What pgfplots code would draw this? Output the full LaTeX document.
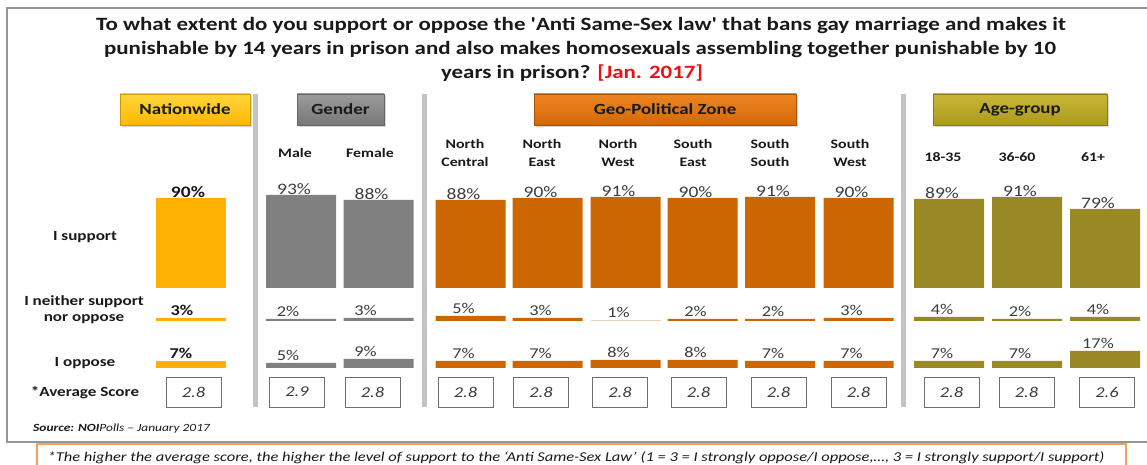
\documentclass[border=0pt]{standalone}
\usepackage{fontspec}
\setmainfont{Carlito}[FakeStretch=1.22]
\newfontfamily\plainq{Carlito}[FakeStretch=1.22]
\newcommand{\sq}{{\plainq\bfseries\char"0027}}
\usepackage{pgfplots}
\pgfplotsset{compat=1.18}
\usetikzlibrary{shadows}
\definecolor{natc}{RGB}{255,176,0}
\definecolor{genc}{RGB}{128,128,128}
\definecolor{geoc}{RGB}{204,102,0}
\definecolor{agec}{RGB}{153,137,36}
\definecolor{sepc}{RGB}{196,196,196}
\definecolor{framec}{RGB}{150,150,150}
\definecolor{footc}{RGB}{243,160,100}
\definecolor{labc}{RGB}{60,60,60}
\definecolor{txtc}{RGB}{25,25,25}
\definecolor{scorec}{RGB}{110,110,110}
\newcommand{\fs}[2]{\fontsize{#1bp}{#2bp}\selectfont}
\pgfplotsset{
  rowaxis/.style={scale only axis, width=1147bp, height=100bp,
    xmin=0, xmax=1147, ymin=0, ymax=100, hide axis, clip=false,
    anchor=south west, ybar, bar width=70,
    /pgf/number format/assume math mode=true,
    nodes near coords={\pgfmathprintnumber{\pgfplotspointmeta}\%},
    every node near coord/.append style={anchor=center, text=labc, font=\fs{15}{18}}},
  bb/.style={ybar, bar shift=0pt, draw=none, fill=#1},
  lx/.style={every node near coord/.append style={xshift=#1bp}},
  ly/.style={every node near coord/.append style={yshift=#1bp}},
}
\begin{document}
\begin{tikzpicture}
\useasboundingbox (0,0) rectangle (1147bp,465bp);
% frame (decoration, canvas coordinates; y measured from bottom)
\draw[framec, line width=1.5bp] (1150bp,457bp) -- (7bp,457bp) -- (7bp,23bp) -- (1150bp,23bp);
% ---------- main layer ----------
\begin{axis}[name=main, at={(0,0)}, anchor=south west, scale only axis,
  width=1147bp, height=465bp, xmin=0, xmax=1147, ymin=0, ymax=465,
  y dir=reverse, hide axis, clip=false]
\draw[footc, line width=2bp, fill=white] (axis cs:37,465) -- (axis cs:37,444) -- (axis cs:1126,444) -- (axis cs:1126,465);
% title
\node[anchor=base, text=txtc, font=\fs{18.8}{22}\bfseries] at (axis cs:581,31) {To what extent do you support or oppose the \sq Anti Same-Sex law\sq{} that bans gay marriage and makes it};
\node[anchor=base, text=txtc, font=\fs{18.8}{22}\bfseries] at (axis cs:580,55) {punishable by 14 years in prison and also makes homosexuals assembling together punishable by 10};
\node[anchor=base, text=txtc, font=\fs{18.8}{22}\bfseries] at (axis cs:572,79) {years in prison? \textcolor[RGB]{230,20,20}{[Jan. 2017]}};
% separators
\draw[sepc, line width=5bp] (axis cs:255,94) -- (axis cs:255,407);
\draw[sepc, line width=5bp] (axis cs:424,94) -- (axis cs:424,407);
\draw[sepc, line width=5bp] (axis cs:903,94) -- (axis cs:903,407);
% header boxes
\node[draw={rgb,255:red,205;green,150;blue,0}, top color={rgb,255:red,255;green,214;blue,60}, bottom color={rgb,255:red,255;green,184;blue,0}, minimum width=130bp, minimum height=31bp, inner sep=0pt, drop shadow={opacity=0.3, shadow xshift=2bp, shadow yshift=-2bp}, font=\fs{15.5}{18}\bfseries, text=txtc] at (axis cs:185,109.5) {Nationwide};
\node[draw={rgb,255:red,100;green,100;blue,100}, top color={rgb,255:red,155;green,155;blue,155}, bottom color={rgb,255:red,120;green,120;blue,120}, minimum width=87bp, minimum height=31bp, inner sep=0pt, drop shadow={opacity=0.3, shadow xshift=2bp, shadow yshift=-2bp}, font=\fs{15.5}{18}\bfseries, text=txtc] at (axis cs:340.5,109.5) {Gender};
\node[draw={rgb,255:red,170;green,80;blue,0}, top color={rgb,255:red,236;green,132;blue,32}, bottom color={rgb,255:red,212;green,104;blue,8}, minimum width=262bp, minimum height=31bp, inner sep=0pt, drop shadow={opacity=0.3, shadow xshift=2bp, shadow yshift=-2bp}, font=\fs{15.5}{18}\bfseries, text=txtc] at (axis cs:665,109.5) {Geo-Political Zone};
\node[draw={rgb,255:red,140;green,125;blue,20}, top color={rgb,255:red,200;green,182;blue,52}, bottom color={rgb,255:red,172;green,154;blue,30}, minimum width=174bp, minimum height=31bp, inner sep=0pt, drop shadow={opacity=0.3, shadow xshift=2bp, shadow yshift=-2bp}, font=\fs{15.5}{18}\bfseries, text=txtc] at (axis cs:1020,109.5) {Age-group};
% column labels
\tikzset{cl/.style={align=center, font=\fs{13}{18}\bfseries, text=txtc}}
\node[cl] at (axis cs:295,153) {Male};
\node[cl] at (axis cs:370,153) {Female};
\node[cl] at (axis cs:465,153) {North\\Central};
\node[cl] at (axis cs:542,153) {North\\East};
\node[cl] at (axis cs:618,153) {North\\West};
\node[cl] at (axis cs:693,153) {South\\East};
\node[cl] at (axis cs:770,153) {South\\South};
\node[cl] at (axis cs:850,153) {South\\West};
\node[cl] at (axis cs:943,157) {18-35};
\node[cl] at (axis cs:1017,157) {36-60};
\node[cl] at (axis cs:1093,157) {61+};
% row labels
\tikzset{rl/.style={align=center, font=\fs{14}{16}\bfseries, text=txtc}}
\node[rl] at (axis cs:85,237) {I support};
\node[rl] at (axis cs:84,310) {I neither support\\nor oppose};
\node[rl] at (axis cs:85,363) {I oppose};
\node[rl] at (axis cs:85,393) {*Average Score};
% source and footnote
\node[anchor=west, font=\fs{11}{13}\itshape, text=txtc, inner sep=0pt] at (axis cs:33,429) {\textbf{Source:} \textbf{NOI}Polls -- January 2017};
\node[font=\fs{13.5}{15}\itshape, text=txtc] at (axis cs:576,458) {*The higher the average score, the higher the level of support to the ‘Anti Same-Sex Law’ (1 = 3 = I strongly oppose/I oppose,…, 3 = I strongly support/I support)};
% average score boxes
\addplot[draw=none, mark=none, point meta=explicit symbolic, nodes near coords,
  every node near coord/.append style={anchor=center, draw=scorec, line width=0.8bp, fill=white,
  minimum width=55bp, minimum height=30bp, inner sep=0pt, font=\fs{15}{18}\itshape, text=labc}]
  coordinates {(193.5,392)[2.8] (297,392)[2.9] (372.5,392)[2.8] (465.5,392)[2.8] (541,392)[2.8]
  (620,392)[2.8] (698.5,392)[2.8] (778.5,392)[2.8] (858.5,392)[2.8] (951.5,392)[2.8]
  (1026.5,392)[2.8] (1107,392)[2.6]};
\end{axis}
% ---------- I support ----------
\begin{axis}[rowaxis, at={(0,177bp)}, ly=6]
\addplot[bb=natc, lx=-3, every node near coord/.append style={font=\fs{16}{18}\bfseries, text=txtc}] coordinates {(191,90)};
\addplot[bb=genc, lx=-7, every node near coord/.append style={font=\fs{16}{18}}] coordinates {(301,93) (378.5,88)};
\addplot[bb=geoc, lx=-7, every node near coord/.append style={font=\fs{16}{18}}] coordinates {(470.5,88) (547.5,90) (625.5,91) (702.5,90) (780,91) (858.5,90)};
\addplot[bb=agec, lx=-7, every node near coord/.append style={font=\fs{16}{18}}] coordinates {(949,89) (1027,91) (1105,79)};
\end{axis}
% ---------- neither ----------
\begin{axis}[rowaxis, at={(0,144bp)}, ly=8]
\addplot[bb=natc, lx=-9, every node near coord/.append style={font=\fs{15}{18}\bfseries, text=txtc}] coordinates {(191,3)};
\addplot[bb=genc, lx=-13] coordinates {(301,2) (378.5,3)};
\addplot[bb=geoc, lx=-7] coordinates {(470.5,5) (547.5,3)};
\addplot[bb=geoc!30, lx=-7] coordinates {(625.5,1)};
\addplot[bb=geoc, lx=-7] coordinates {(702.5,2) (780,2) (858.5,3)};
\addplot[bb=agec, lx=-7] coordinates {(949,4) (1027,2) (1105,4)};
\end{axis}
% ---------- oppose ----------
\begin{axis}[rowaxis, at={(0,97bp)}, ly=8]
\addplot[bb=natc, lx=-10, every node near coord/.append style={font=\fs{15}{18}\bfseries, text=txtc}] coordinates {(191,7)};
\addplot[bb=genc, lx=-13] coordinates {(301,5) (378.5,9)};
\addplot[bb=geoc, lx=-7] coordinates {(470.5,7) (547.5,7) (625.5,8) (702.5,8) (780,7) (858.5,7)};
\addplot[bb=agec, lx=-7] coordinates {(949,7) (1027,7) (1105,17)};
\end{axis}
\end{tikzpicture}
\end{document}
